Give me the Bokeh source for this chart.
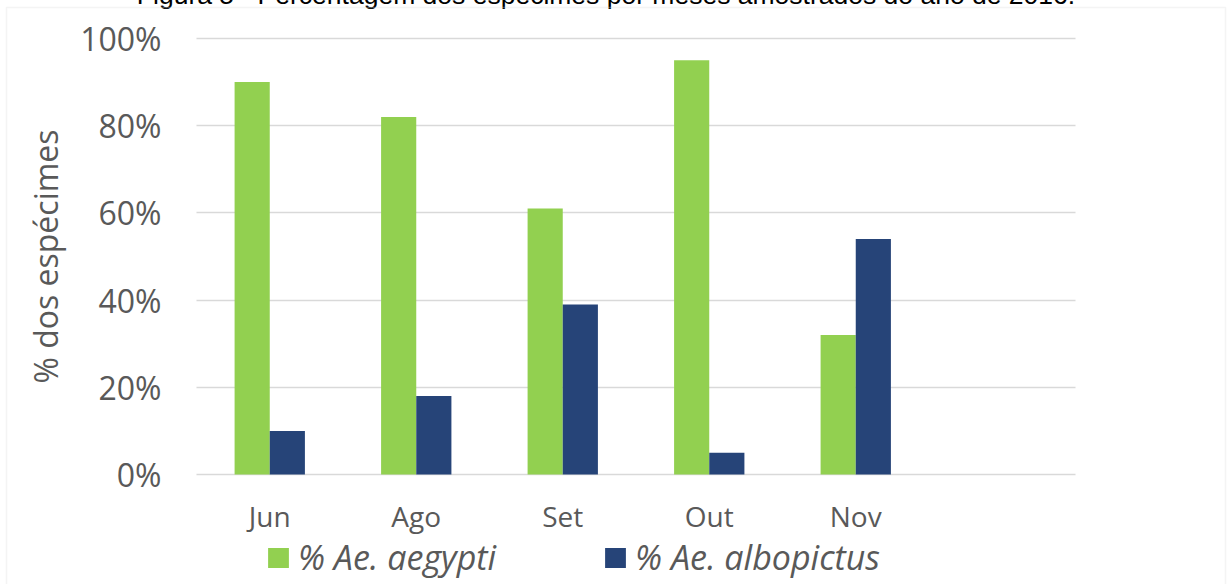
import numpy as np
from bokeh.plotting import figure
from bokeh.models import (Range1d, Legend, LegendItem, Label, BoxAnnotation,
                          PrintfTickFormatter, FixedTicker, ColumnDataSource)
from bokeh.embed import file_html
from bokeh.resources import INLINE

# ---- data ----
categories = ["Jun", "Ago", "Set", "Out", "Nov"]
n_slots = 6  # the category axis has one empty slot after "Nov"
aegypti = [90, 82, 61, 95, 32]
albopictus = [10, 18, 39, 5, 54]
y_ticks = [0, 20, 40, 60, 80, 100]
series_names = ["% Ae. aegypti", "% Ae. albopictus"]
series_colors = ["#92D050", "#264478"]
title_text = "Figura 5 - Percentagem dos espécimes por meses amostrados do ano de 2016."
y_title = "% dos espécimes"

# ---- layout constants (page pixels) ----
W, H_PAGE, HIDDEN_TOP = 1227, 584, 30
PLOT_LEFT, PLOT_RIGHT = 196, 1075
Y0_PX, Y100_PX = 474, 38
CAT_PX = (PLOT_RIGHT - PLOT_LEFT) / n_slots
PPU = (Y0_PX - Y100_PX) / 100.0


def px_to_x(px):
    return (px - PLOT_LEFT) / CAT_PX


def px_to_y(py):
    return (Y0_PX - py) / PPU


centers = np.arange(len(categories)) + 0.5
bar_w = 0.24
src = ColumnDataSource(dict(xa=centers - bar_w / 2, xb=centers + bar_w / 2,
                            aeg=aegypti, alb=albopictus))

p = figure(x_range=Range1d(px_to_x(0), px_to_x(W)),
           y_range=Range1d(px_to_y(H_PAGE), px_to_y(-HIDDEN_TOP)),
           width=W, height=H_PAGE + HIDDEN_TOP, output_backend="svg", toolbar_location=None,
           min_border=0)
p.styles = {"margin-top": f"-{HIDDEN_TOP}px"}
p.outline_line_color = None
p.background_fill_color = "white"
p.border_fill_color = "white"

r1 = p.vbar(x="xa", top="aeg", width=bar_w, source=src,
            fill_color=series_colors[0], line_color=None)
r2 = p.vbar(x="xb", top="alb", width=bar_w, source=src,
            fill_color=series_colors[1], line_color=None)

p.xgrid.visible = False
p.ygrid.ticker = FixedTicker(ticks=y_ticks)
p.ygrid.grid_line_color = "#d9d9d9"
p.ygrid.grid_line_width = 1.5
if "cross_bounds" in p.ygrid.properties():
    p.ygrid.cross_bounds = (0, n_slots)
else:
    p.ygrid.visible = False
    p.segment(x0=[0] * len(y_ticks), x1=[n_slots] * len(y_ticks), y0=y_ticks, y1=y_ticks,
              line_color="#d9d9d9", line_width=1.5, level="underlay")

ya = p.yaxis[0]
ya.fixed_location = 0
ya.bounds = (0, 100)
ya.ticker = FixedTicker(ticks=y_ticks)
ya.formatter = PrintfTickFormatter(format="%d%%")
ya.axis_line_color = None
ya.major_tick_line_color = None
ya.major_tick_out = 0
ya.major_tick_in = 0
ya.minor_tick_line_color = None
ya.major_label_text_font = "Open Sans"
ya.major_label_text_font_size = "32px"
ya.major_label_text_color = "#595959"
ya.major_label_standoff = 35
ya.axis_label = y_title
ya.axis_label_text_font = "Open Sans"
ya.axis_label_text_font_style = "normal"
ya.axis_label_text_font_size = "32px"
ya.axis_label_text_color = "#595959"
ya.axis_label_standoff = 10

xa = p.xaxis[0]
xa.fixed_location = 0
xa.bounds = (0, n_slots)
xa.ticker = FixedTicker(ticks=list(centers))
xa.major_label_overrides = {float(c): lab for c, lab in zip(centers, categories)}
xa.axis_line_color = None
xa.major_tick_line_color = None
xa.major_tick_out = 0
xa.major_tick_in = 0
xa.minor_tick_line_color = None
xa.major_label_text_font = "Open Sans"
xa.major_label_text_font_size = "28px"
xa.major_label_text_color = "#595959"
xa.major_label_standoff = 22

legend = Legend(items=[LegendItem(label=series_names[0], renderers=[r1]),
                       LegendItem(label=series_names[1], renderers=[r2])],
                location=(265, 4), orientation="horizontal", padding=0, margin=0,
                spacing=106, label_standoff=7, glyph_width=26, glyph_height=25,
                label_text_font="Open Sans", label_text_font_style="italic",
                label_text_font_size="34px", label_text_color="#595959",
                border_line_color=None, background_fill_alpha=0)
p.add_layout(legend)

p.add_layout(Label(x=px_to_x(605.5), y=px_to_y(-6), text=title_text,
                   text_align="center", text_baseline="alphabetic",
                   text_font="Liberation Sans", text_font_size="26.5px", text_color="black"))

p.add_layout(BoxAnnotation(left=px_to_x(6), right=px_to_x(1225), top=px_to_y(7),
                           bottom=px_to_y(H_PAGE + 20),
                           fill_alpha=0, line_color="#d9d9d9", line_width=1.5))

open("out.html", "w").write(file_html(p, INLINE))
